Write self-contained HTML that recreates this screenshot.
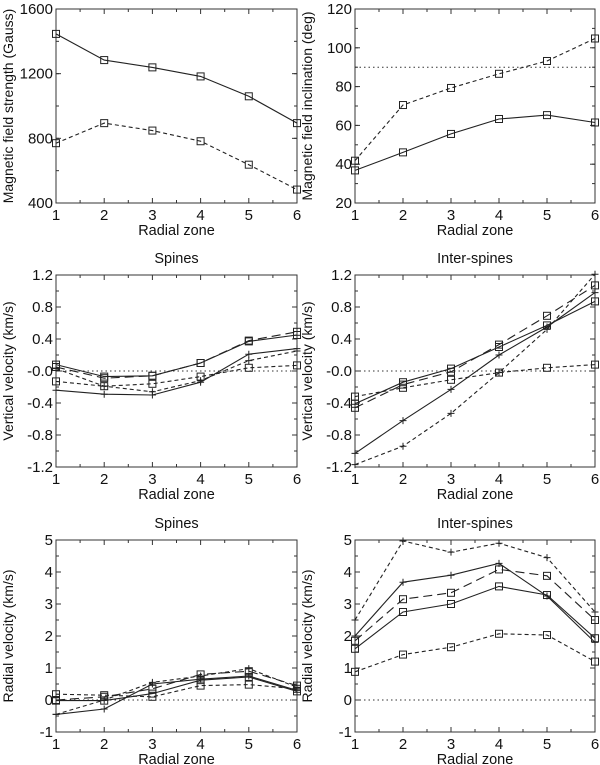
<!DOCTYPE html>
<html><head><meta charset="utf-8"><style>
html,body{margin:0;padding:0;background:#fff}
svg{display:block;font-family:"Liberation Sans",Arial,sans-serif}
</style></head><body>
<svg id="fig" width="600" height="765" viewBox="0 0 600 765" xmlns="http://www.w3.org/2000/svg"></svg>
<script>
const zones = [1,2,3,4,5,6];
// Top-left: field strength (Gauss)
const bSolid = [1446,1284,1239,1183,1060,894];
const bDashed = [770,894,848,782,637,483];
// Top-right: inclination (deg)
const incSolid = [36.8,46.1,55.6,63.3,65.3,61.5];
const incDashed = [41.8,70.5,79.3,86.6,93.2,104.8];
// Middle-left vertical velocity spines
const vsA = [0.08,-0.07,-0.06,0.10,0.37,0.45];
const vsB = [0.05,-0.09,-0.06,0.10,0.38,0.49];
const vsE = [-0.13,-0.19,-0.16,-0.07,0.04,0.07];
const vsC = [-0.24,-0.29,-0.30,-0.14,0.21,0.28];
const vsD = [0.03,-0.19,-0.26,-0.12,0.13,0.25];
// Middle-right vertical velocity inter-spines
const viA = [-0.41,-0.14,0.03,0.30,0.57,0.87];
const viB = [-0.46,-0.17,-0.01,0.33,0.69,1.07];
const viE = [-0.32,-0.21,-0.11,-0.02,0.04,0.08];
const viC = [-1.03,-0.62,-0.23,0.20,0.55,0.98];
const viD = [-1.17,-0.94,-0.53,-0.02,0.52,1.21];
// Bottom-left radial velocity spines
const rsA = [-0.02,-0.02,0.20,0.62,0.72,0.27];
const rsB = [0.00,0.10,0.35,0.80,0.90,0.45];
const rsE = [0.18,0.15,0.10,0.45,0.48,0.35];
const rsC = [-0.45,-0.28,0.50,0.65,0.75,0.30];
const rsD = [-0.45,0.00,0.55,0.75,0.98,0.40];
// Bottom-right radial velocity inter-spines
const riA = [1.60,2.75,3.00,3.55,3.28,1.93];
const riB = [1.85,3.15,3.35,4.08,3.88,2.50];
const riE = [0.88,1.42,1.65,2.07,2.03,1.20];
const riC = [2.00,3.68,3.90,4.27,3.25,1.80];
const riD = [2.50,4.97,4.62,4.90,4.45,2.75];

const tlTicks = ['400','800','1200','1600'];
const trTicks = ['20','40','60','80','100','120'];
const vTicks = ['-1.2','-0.8','-0.4','-0.0','0.4','0.8','1.2'];
const rTicks = ['-1','0','1','2','3','4','5'];

const NS='http://www.w3.org/2000/svg';
const svg=document.getElementById('fig');
function mk(tag,attrs,parent){const e=document.createElementNS(NS,tag);for(const k in attrs)e.setAttribute(k,attrs[k]);(parent||svg).appendChild(e);return e;}

const SOLID='', LONG='9,5', SHORT='4,3';
function panel(name,x0,x1,y0,y1,ymin,ymax,yTickLabels,yMinorStep,ylabel,title,series,zeroLine){
  const g=mk('g',{});
  
  
  const xs=v=>x0+(v-1)/5*(x1-x0);
  const ys=v=>y1-(v-ymin)/(ymax-ymin)*(y1-y0);
  const fr=mk('rect',{x:x0,y:y0,width:x1-x0,height:y1-y0,fill:'none',stroke:'#333','stroke-width':1},g);
  
  
  for(let v=1;v<=6.001;v+=0.5){
    const L=(Math.abs(v-Math.round(v))<1e-6)?5:3;
    mk('line',{x1:xs(v),x2:xs(v),y1:y1,y2:y1-L,stroke:'#333'},g);
    mk('line',{x1:xs(v),x2:xs(v),y1:y0,y2:y0+L,stroke:'#333'},g);
  }
  zones.forEach(z=>{
    const t=mk('text',{x:xs(z),y:y1+17,'text-anchor':'middle','font-size':15,fill:'#111'},g);
    t.textContent=z;
    
    
  });
  const xt=mk('text',{x:(x0+x1)/2,y:y1+32,'text-anchor':'middle','font-size':14.5,fill:'#111'},g);
  xt.textContent='Radial zone';
  
  
  for(let v=ymin;v<=ymax+1e-6;v+=yMinorStep){
    mk('line',{x1:x0,x2:x0+3,y1:ys(v),y2:ys(v),stroke:'#333'},g);
    mk('line',{x1:x1,x2:x1-3,y1:ys(v),y2:ys(v),stroke:'#333'},g);
  }
  yTickLabels.forEach(s=>{
    const v=parseFloat(s);
    mk('line',{x1:x0,x2:x0+5,y1:ys(v),y2:ys(v),stroke:'#333'},g);
    mk('line',{x1:x1,x2:x1-5,y1:ys(v),y2:ys(v),stroke:'#333'},g);
    const t=mk('text',{x:x0-3,y:ys(v)+5,'text-anchor':'end','font-size':15,fill:'#111'},g);
    t.textContent=s;
    
    
  });
  const yt=mk('text',{x:0,y:0,'text-anchor':'middle','font-size':14,fill:'#111',transform:`translate(${x0-43},${(y0+y1)/2}) rotate(-90)`},g);
  yt.textContent=ylabel;
  
  
  if(title){
    const tt=mk('text',{x:(x0+x1)/2,y:y0-12,'text-anchor':'middle','font-size':14.5,fill:'#111'},g);
    tt.textContent=title;
    
    
  }
  if(zeroLine!==null){
    const zl=mk('line',{x1:x0,x2:x1,y1:ys(zeroLine),y2:ys(zeroLine),stroke:'#333','stroke-dasharray':'1.5,3'},g);
    
    
  }
  series.forEach(s=>{
    const pts=s.vals.map((v,i)=>xs(zones[i]).toFixed(1)+','+ys(v).toFixed(1)).join(' ');
    const pl=mk('polyline',{points:pts,fill:'none',stroke:'#222','stroke-width':1.1,'stroke-dasharray':s.dash||'none'},g);
    
    
    s.vals.forEach((v,i)=>{
      const cx=xs(zones[i]),cy=ys(v);
      if(s.marker==='sq'){
        const m=mk('rect',{x:cx-3.5,y:cy-3.5,width:7,height:7,fill:'none',stroke:'#222'},g);
        
        
      }else{
        const m=mk('path',{d:`M${cx-3.5},${cy}H${cx+3.5}M${cx},${cy-3.5}V${cy+3.5}`,stroke:'#222'},g);
        
        
      }
    });
  });
}
const LX0=56,LX1=297,RX0=355,RX1=595;
panel('field-strength-panel',LX0,LX1,9,203,400,1600,tlTicks,200,'Magnetic field strength (Gauss)',null,[
  {name:'solid-series',vals:bSolid,dash:SOLID,marker:'sq'},
  {name:'dashed-series',vals:bDashed,dash:SHORT,marker:'sq'}],null);
panel('inclination-panel',RX0,RX1,9,203,20,120,trTicks,10,'Magnetic field inclination (deg)',null,[
  {name:'solid-series',vals:incSolid,dash:SOLID,marker:'sq'},
  {name:'dashed-series',vals:incDashed,dash:SHORT,marker:'sq'}],90);
panel('vertical-velocity-spines',LX0,LX1,275,467,-1.2,1.2,vTicks,0.2,'Vertical velocity (km/s)','Spines',[
  {name:'series-a',vals:vsA,dash:SOLID,marker:'sq'},
  {name:'series-b',vals:vsB,dash:LONG,marker:'sq'},
  {name:'series-e',vals:vsE,dash:SHORT,marker:'sq'},
  {name:'series-c',vals:vsC,dash:SOLID,marker:'plus'},
  {name:'series-d',vals:vsD,dash:SHORT,marker:'plus'}],0);
panel('vertical-velocity-interspines',RX0,RX1,275,467,-1.2,1.2,vTicks,0.2,'Vertical velocity (km/s)','Inter-spines',[
  {name:'series-a',vals:viA,dash:SOLID,marker:'sq'},
  {name:'series-b',vals:viB,dash:LONG,marker:'sq'},
  {name:'series-e',vals:viE,dash:SHORT,marker:'sq'},
  {name:'series-c',vals:viC,dash:SOLID,marker:'plus'},
  {name:'series-d',vals:viD,dash:SHORT,marker:'plus'}],0);
panel('radial-velocity-spines',LX0,LX1,540,732,-1,5,rTicks,0.5,'Radial velocity (km/s)','Spines',[
  {name:'series-a',vals:rsA,dash:SOLID,marker:'sq'},
  {name:'series-b',vals:rsB,dash:LONG,marker:'sq'},
  {name:'series-e',vals:rsE,dash:SHORT,marker:'sq'},
  {name:'series-c',vals:rsC,dash:SOLID,marker:'plus'},
  {name:'series-d',vals:rsD,dash:SHORT,marker:'plus'}],0);
panel('radial-velocity-interspines',RX0,RX1,540,732,-1,5,rTicks,0.5,'Radial velocity (km/s)','Inter-spines',[
  {name:'series-a',vals:riA,dash:SOLID,marker:'sq'},
  {name:'series-b',vals:riB,dash:LONG,marker:'sq'},
  {name:'series-e',vals:riE,dash:SHORT,marker:'sq'},
  {name:'series-c',vals:riC,dash:SOLID,marker:'plus'},
  {name:'series-d',vals:riD,dash:SHORT,marker:'plus'}],0);
</script>
</body></html>
